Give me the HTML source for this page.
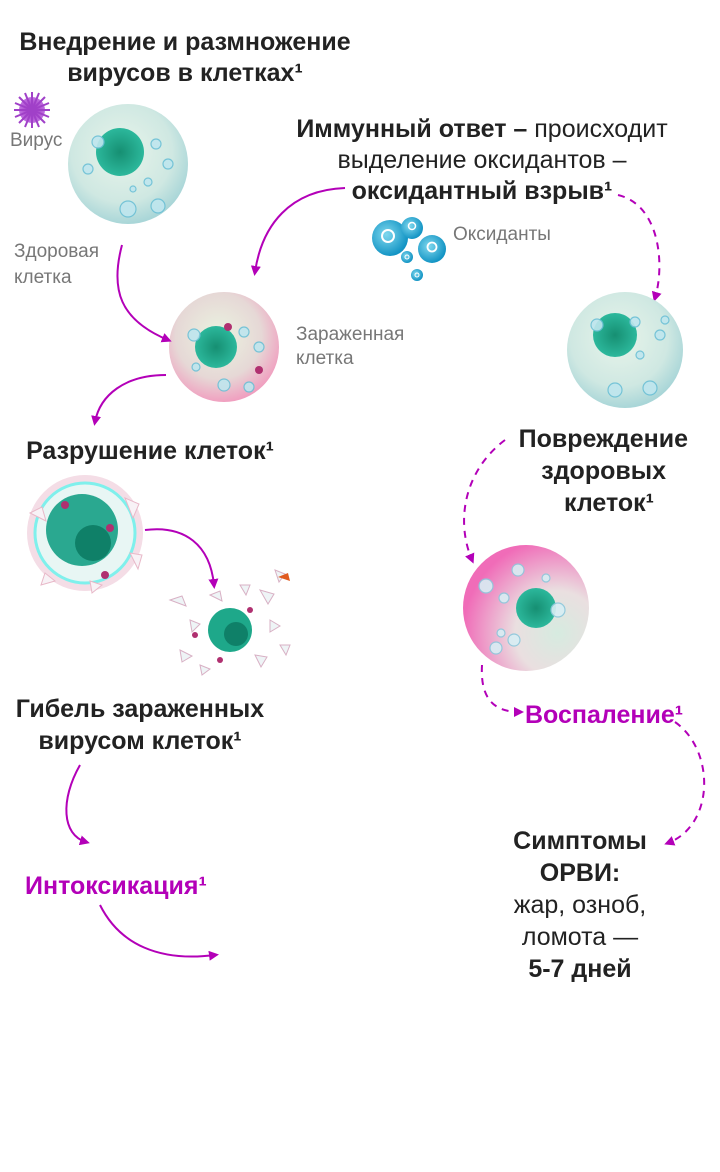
<!DOCTYPE html>
<html><head><meta charset="utf-8">
<style>
html,body{margin:0;padding:0;background:#fff;}
svg{display:block;font-family:"Liberation Sans","DejaVu Sans",sans-serif;}
.b{font-weight:bold;fill:#222;font-size:25px;}
.r{fill:#222;font-size:25px;}
.g{fill:#777;font-size:19px;}
.m{font-weight:bold;fill:#b300b8;font-size:25px;}
</style></head><body>
<svg width="720" height="1172" viewBox="0 0 720 1172" xmlns="http://www.w3.org/2000/svg">
<defs>
<radialGradient id="hc" cx="45%" cy="40%" r="60%"><stop offset="0" stop-color="#e8f4ea"/><stop offset="0.7" stop-color="#cfe8e2"/><stop offset="1" stop-color="#a9d6d8"/></radialGradient>
<radialGradient id="ic" cx="45%" cy="40%" r="60%"><stop offset="0" stop-color="#eaf3e0"/><stop offset="0.65" stop-color="#e6d8d6"/><stop offset="1" stop-color="#f0a0c0"/></radialGradient>
<radialGradient id="pc" cx="75%" cy="70%" r="75%"><stop offset="0" stop-color="#d6ebe0"/><stop offset="0.45" stop-color="#eadfe0"/><stop offset="1" stop-color="#f06cb8"/></radialGradient>
<radialGradient id="nu" cx="50%" cy="50%" r="50%"><stop offset="0" stop-color="#168f72"/><stop offset="1" stop-color="#2cb89c"/></radialGradient>
<radialGradient id="ox" cx="40%" cy="40%" r="60%"><stop offset="0" stop-color="#7fd8ee"/><stop offset="1" stop-color="#1394c4"/></radialGradient>
<radialGradient id="vr" cx="50%" cy="50%" r="50%"><stop offset="0" stop-color="#9b2fc0"/><stop offset="1" stop-color="#c070e0"/></radialGradient>
<marker id="ah" markerWidth="10" markerHeight="10" refX="6" refY="5" orient="auto" markerUnits="userSpaceOnUse"><path d="M0,0 L10,5 L0,10 z" fill="#b300b8"/></marker>
</defs>

<text class="b" x="185" y="50" text-anchor="middle">Внедрение и размножение</text>
<text class="b" x="185" y="81" text-anchor="middle">вирусов в клетках¹</text>

<g transform="translate(32,110)">
<circle r="13" fill="url(#vr)"/>
<g stroke="#a040c8" stroke-width="2">
<line x1="0" y1="-18" x2="0" y2="18"/><line x1="-18" y1="0" x2="18" y2="0"/>
<line x1="-13" y1="-13" x2="13" y2="13"/><line x1="-13" y1="13" x2="13" y2="-13"/>
<line x1="-7" y1="-17" x2="7" y2="17"/><line x1="-17" y1="-7" x2="17" y2="7"/>
<line x1="-17" y1="7" x2="17" y2="-7"/><line x1="-7" y1="17" x2="7" y2="-17"/>
</g></g>
<text class="g" x="10" y="146">Вирус</text>

<g transform="translate(128,164)">
<circle r="60" fill="url(#hc)"/>
<circle cx="-8" cy="-12" r="24" fill="url(#nu)"/>
<g fill="#bfe6ee" stroke="#6cc0d6" stroke-width="1.2" opacity="0.9">
<circle cx="-30" cy="-22" r="6"/><circle cx="28" cy="-20" r="5"/><circle cx="40" cy="0" r="5"/><circle cx="20" cy="18" r="4"/><circle cx="0" cy="45" r="8"/><circle cx="30" cy="42" r="7"/><circle cx="-40" cy="5" r="5"/><circle cx="5" cy="25" r="3"/>
</g></g>
<text class="g" x="14" y="257">Здоровая</text>
<text class="g" x="14" y="283">клетка</text>

<g transform="translate(224,347)">
<circle r="55" fill="url(#ic)"/>
<circle cx="-8" cy="0" r="21" fill="url(#nu)"/>
<circle cx="4" cy="-20" r="4" fill="#b03070"/><circle cx="35" cy="23" r="4" fill="#b03070"/>
<g fill="#bfe6ee" stroke="#6cc0d6" stroke-width="1.2" opacity="0.9">
<circle cx="-30" cy="-12" r="6"/><circle cx="20" cy="-15" r="5"/><circle cx="35" cy="0" r="5"/><circle cx="0" cy="38" r="6"/><circle cx="25" cy="40" r="5"/><circle cx="-28" cy="20" r="4"/>
</g></g>
<text class="g" x="296" y="340">Зараженная</text>
<text class="g" x="296" y="364">клетка</text>

<path d="M122,245 C110,290 120,320 168,340" fill="none" stroke="#b300b8" stroke-width="2" marker-end="url(#ah)"/>
<path d="M166,375 C125,375 100,395 95,422" fill="none" stroke="#b300b8" stroke-width="2" marker-end="url(#ah)"/>

<text class="b" x="150" y="459" text-anchor="middle">Разрушение клеток¹</text>

<g transform="translate(85,533)">
<circle r="58" fill="#f4dde6"/>
<circle r="50" fill="#e8f6f4" stroke="#7ff0ec" stroke-width="3"/>
<circle cx="-3" cy="-3" r="36" fill="#2aa890"/>
<circle cx="8" cy="10" r="18" fill="#0f8068"/>
<g fill="#f8f2f6" stroke="#e8b8c8"><path d="M-55,-20 l12,-6 4,14z"/><path d="M40,-35 l14,6 -6,14z"/><path d="M45,20 l12,2 -4,14z"/><path d="M-40,40 l10,8 -14,4z"/><path d="M5,48 l12,4 -10,8z"/></g>
<circle cx="-20" cy="-28" r="4" fill="#b03070"/><circle cx="25" cy="-5" r="4" fill="#b03070"/><circle cx="20" cy="42" r="4" fill="#b03070"/>
</g>
<path d="M145,530 C185,525 210,545 214,585" fill="none" stroke="#b300b8" stroke-width="2" marker-end="url(#ah)"/>

<g transform="translate(230,630)">
<circle cx="0" cy="0" r="22" fill="#1ea88a"/>
<circle cx="6" cy="4" r="12" fill="#0f8068"/>
<g fill="#eef4f6" stroke="#d8b0c4">
<path d="M-60,-30 l12,-4 4,10z"/><path d="M-40,-10 l10,4 -8,8z"/><path d="M30,-40 l14,4 -6,10z"/><path d="M40,-10 l10,6 -10,6z"/><path d="M-50,20 l12,6 -10,6z"/><path d="M25,25 l12,2 -6,10z"/><path d="M-20,-35 l10,-4 2,10z"/><path d="M50,15 l10,0 -4,10z"/><path d="M-30,35 l10,4 -8,6z"/><path d="M10,-45 l10,0 -4,10z"/><path d="M45,-60 l10,4 -6,8z"/>
</g>
<path d="M48,-53 l10,-4 2,8z" fill="#e05a20"/>
<circle cx="-35" cy="5" r="3" fill="#b03070"/><circle cx="20" cy="-20" r="3" fill="#b03070"/><circle cx="-10" cy="30" r="3" fill="#b03070"/>
</g>

<text class="b" x="140" y="717" text-anchor="middle">Гибель зараженных</text>
<text class="b" x="140" y="749" text-anchor="middle">вирусом клеток¹</text>
<path d="M80,765 C60,800 62,835 86,842" fill="none" stroke="#b300b8" stroke-width="2" marker-end="url(#ah)"/>
<text class="m" x="25" y="894">Интоксикация¹</text>
<path d="M100,905 C120,945 160,962 215,955" fill="none" stroke="#b300b8" stroke-width="2" marker-end="url(#ah)"/>

<text class="r" x="482" y="137" text-anchor="middle"><tspan font-weight="bold">Иммунный ответ –</tspan> происходит</text>
<text class="r" x="482" y="168" text-anchor="middle">выделение оксидантов –</text>
<text class="b" x="482" y="199" text-anchor="middle">оксидантный взрыв¹</text>

<path d="M345,188 C290,190 262,225 255,272" fill="none" stroke="#b300b8" stroke-width="2" marker-end="url(#ah)"/>

<g>
<circle cx="390" cy="238" r="18" fill="url(#ox)"/><circle cx="388" cy="236" r="6" fill="none" stroke="#fff" stroke-width="2"/>
<circle cx="412" cy="228" r="11" fill="url(#ox)"/><circle cx="412" cy="226" r="3.5" fill="none" stroke="#fff" stroke-width="1.5"/>
<circle cx="432" cy="249" r="14" fill="url(#ox)"/><circle cx="432" cy="247" r="4.5" fill="none" stroke="#fff" stroke-width="1.8"/>
<circle cx="407" cy="257" r="6" fill="url(#ox)"/><circle cx="407" cy="257" r="2" fill="none" stroke="#fff" stroke-width="1"/>
<circle cx="417" cy="275" r="6" fill="url(#ox)"/><circle cx="417" cy="275" r="2" fill="none" stroke="#fff" stroke-width="1"/>
</g>
<text class="g" x="453" y="240">Оксиданты</text>

<path d="M618,195 C660,205 665,265 655,298" fill="none" stroke="#b300b8" stroke-width="2" stroke-dasharray="7,6" marker-end="url(#ah)"/>

<g transform="translate(625,350)">
<circle r="58" fill="url(#hc)"/>
<circle cx="-10" cy="-15" r="22" fill="url(#nu)"/>
<g fill="#bfe6ee" stroke="#6cc0d6" stroke-width="1.2" opacity="0.9">
<circle cx="-28" cy="-25" r="6"/><circle cx="10" cy="-28" r="5"/><circle cx="35" cy="-15" r="5"/><circle cx="15" cy="5" r="4"/><circle cx="-10" cy="40" r="7"/><circle cx="25" cy="38" r="7"/><circle cx="40" cy="-30" r="4"/>
</g></g>

<text class="b" x="688" y="447" text-anchor="end">Повреждение</text>
<text class="b" x="666" y="479" text-anchor="end">здоровых</text>
<text class="b" x="654" y="511" text-anchor="end">клеток¹</text>

<path d="M505,440 C465,470 455,520 472,560" fill="none" stroke="#b300b8" stroke-width="2" stroke-dasharray="7,6" marker-end="url(#ah)"/>

<g transform="translate(526,608)">
<circle r="63" fill="url(#pc)"/>
<circle cx="10" cy="0" r="20" fill="url(#nu)"/>
<g fill="#d8eef4" stroke="#8cc8dc" stroke-width="1.2" opacity="0.9">
<circle cx="-40" cy="-22" r="7"/><circle cx="-8" cy="-38" r="6"/><circle cx="-22" cy="-10" r="5"/><circle cx="32" cy="2" r="7"/><circle cx="-25" cy="25" r="4"/><circle cx="-12" cy="32" r="6"/><circle cx="-30" cy="40" r="6"/><circle cx="20" cy="-30" r="4"/>
</g></g>

<path d="M482,665 C480,700 495,712 520,712" fill="none" stroke="#b300b8" stroke-width="2" stroke-dasharray="7,6" marker-end="url(#ah)"/>
<text class="m" x="525" y="723">Воспаление¹</text>
<path d="M675,722 C715,750 715,825 668,843" fill="none" stroke="#b300b8" stroke-width="2" stroke-dasharray="7,6" marker-end="url(#ah)"/>

<text class="b" x="580" y="849" text-anchor="middle">Симптомы</text>
<text class="b" x="580" y="881" text-anchor="middle">ОРВИ:</text>
<text class="r" x="580" y="913" text-anchor="middle">жар, озноб,</text>
<text class="r" x="580" y="945" text-anchor="middle">ломота —</text>
<text class="b" x="580" y="977" text-anchor="middle">5-7 дней</text>
</svg>
</body></html>
